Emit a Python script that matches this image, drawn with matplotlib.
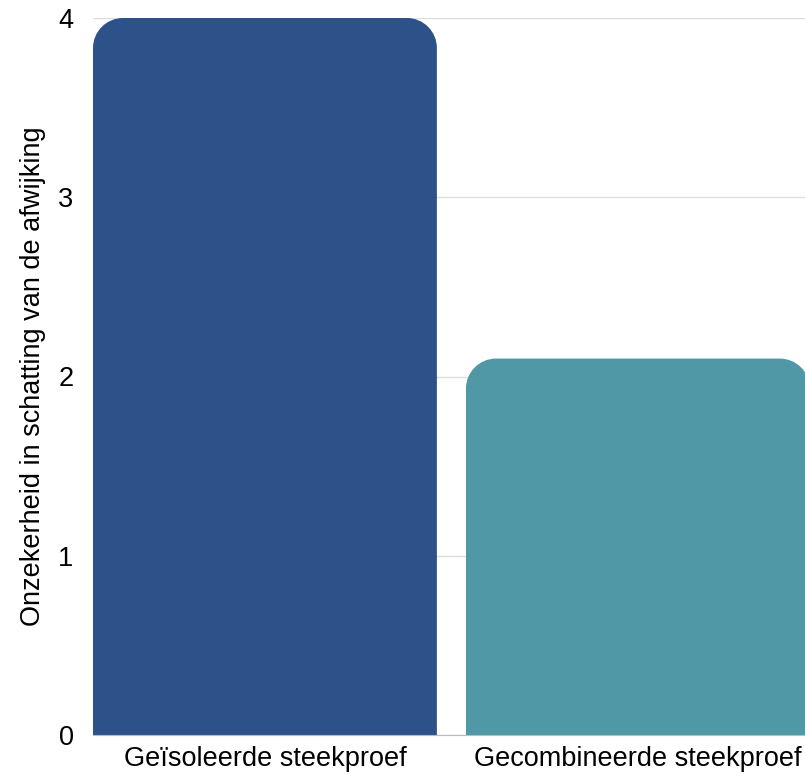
import matplotlib.pyplot as plt
from matplotlib.path import Path
from matplotlib.patches import PathPatch

plt.rcParams['font.family'] = ['Liberation Sans', 'DejaVu Sans']

categories = ['Geïsoleerde steekproef', 'Gecombineerde steekproef']
values = [4.0, 2.1]
colors = ['#2c5289', '#5098a6']
y_ticks = [0, 1, 2, 3, 4]
y_label = 'Onzekerheid in schatting van de afwijking'

fig = plt.figure(figsize=(8.05, 7.77), dpi=100)
ax = fig.add_axes([93 / 805, 42 / 777, 712 / 805, 717 / 777])

width = 0.922
bars = ax.bar(range(len(categories)), values, width=width, color=colors, zorder=2)
ax.set_xlim(-width / 2, 1.448)
ax.set_ylim(0, 4)

# rounded top corners, radius in pixels converted to data units
fig.canvas.draw()
radius_px = 30
inv = ax.transData.inverted()
p0 = inv.transform((0, 0))
p1 = inv.transform((radius_px, radius_px))
rx, ry = p1[0] - p0[0], p1[1] - p0[1]
k = 0.5523
for b in bars:
    x0, y0 = b.get_x(), b.get_y()
    x1, y1 = x0 + b.get_width(), y0 + b.get_height()
    verts = [
        (x0, y0), (x0, y1 - ry),
        (x0, y1 - ry + k * ry), (x0 + rx - k * rx, y1), (x0 + rx, y1),
        (x1 - rx, y1),
        (x1 - rx + k * rx, y1), (x1, y1 - ry + k * ry), (x1, y1 - ry),
        (x1, y0), (x0, y0),
    ]
    codes = [Path.MOVETO, Path.LINETO,
             Path.CURVE4, Path.CURVE4, Path.CURVE4,
             Path.LINETO,
             Path.CURVE4, Path.CURVE4, Path.CURVE4,
             Path.LINETO, Path.CLOSEPOLY]
    ax.add_patch(PathPatch(Path(verts, codes), facecolor=b.get_facecolor(),
                           edgecolor='none', zorder=2, clip_on=False))
    b.remove()

ax.set_yticks(y_ticks)
ax.set_yticklabels([str(t) for t in y_ticks], fontsize=19.5)
ax.set_xticks(range(len(categories)))
ax.set_xticklabels(categories, fontsize=19.5)
ax.tick_params(axis='both', length=0)
ax.tick_params(axis='y', pad=14)
ax.tick_params(axis='x', pad=8)
ax.yaxis.grid(True, color='#dddddd', linewidth=1, zorder=0)
ax.set_axisbelow(True)
for s in ['top', 'right', 'left']:
    ax.spines[s].set_visible(False)
ax.spines['bottom'].set_color('#bbbbbb')
ax.set_ylabel(y_label, fontsize=19.5, labelpad=9)

fig.savefig('out.png', dpi=100)
